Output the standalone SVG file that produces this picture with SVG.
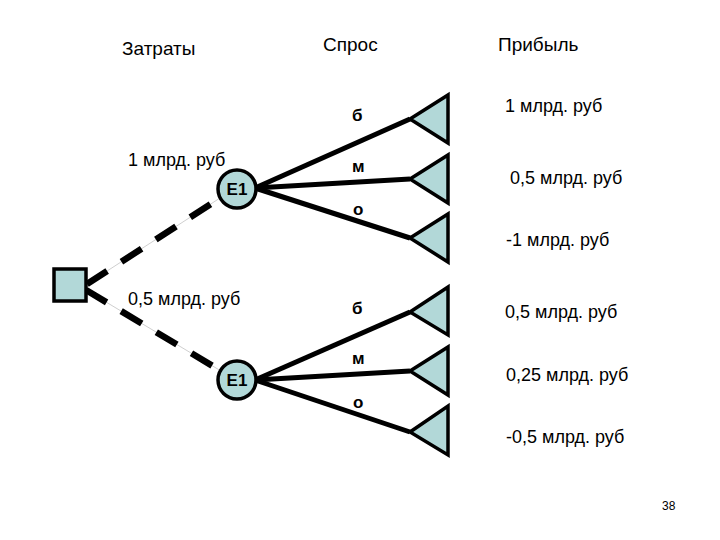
<svg xmlns="http://www.w3.org/2000/svg" width="720" height="540" viewBox="0 0 720 540">
<style>
text{font-family:"Liberation Sans",Arial,sans-serif;fill:#000}
.h{font-size:19px}
.v{font-size:18px}
.b{font-size:17px;font-weight:bold}
.e{font-size:17px;font-weight:bold;text-anchor:middle}
.node{fill:#b2d8d8;stroke:#000;stroke-width:3.5}
.br{stroke:#000;stroke-width:5;fill:none}
.dash{stroke:#000;stroke-width:6.5;stroke-dasharray:24 17;fill:none}
.thin{stroke:#cfcfcf;stroke-width:1;fill:none}
</style>
<rect width="720" height="540" fill="#fff"/>
<g id="headers">
<text class="h" x="122" y="55">Затраты</text>
<text class="h" x="323" y="51">Спрос</text>
<text class="h" x="498" y="51">Прибыль</text>
</g>
<g id="connectors">
<line class="thin" x1="87" y1="284" x2="220" y2="198"/>
<line class="thin" x1="86" y1="290" x2="221" y2="371"/>
<line class="dash" x1="87" y1="284" x2="220" y2="198"/>
<line class="dash" x1="86" y1="290" x2="221" y2="371"/>
<line class="br" x1="255" y1="188" x2="410" y2="119"/>
<line class="br" x1="255" y1="188" x2="410" y2="179"/>
<line class="br" x1="255" y1="188" x2="410" y2="238"/>
<line class="br" x1="255" y1="380" x2="410" y2="312"/>
<line class="br" x1="255" y1="380" x2="410" y2="371"/>
<line class="br" x1="255" y1="380" x2="410" y2="432"/>
</g>
<g id="decision"><rect class="node" x="54" y="269" width="32" height="32"/></g>
<g id="e1-top"><circle class="node" cx="237" cy="189" r="19"/><text class="e" x="237" y="195">E1</text></g>
<g id="e1-bottom"><circle class="node" cx="237" cy="380" r="19"/><text class="e" x="237" y="386">E1</text></g>
<g id="t1"><polygon class="node" points="410,119 448,95 448,143"/></g>
<g id="t2"><polygon class="node" points="410,179 448,155 448,203"/></g>
<g id="t3"><polygon class="node" points="410,238 448,214 448,262"/></g>
<g id="t4"><polygon class="node" points="410,312 448,287 448,335"/></g>
<g id="t5"><polygon class="node" points="410,371 448,347 448,395"/></g>
<g id="t6"><polygon class="node" points="410,432 448,406 448,455"/></g>
<g id="labels">
<text class="v" x="128" y="166">1 млрд. руб</text>
<text class="v" x="128" y="305">0,5 млрд. руб</text>
<text class="b" x="352" y="121">б</text>
<text class="b" x="352" y="172">м</text>
<text class="b" x="353" y="215">о</text>
<text class="b" x="352" y="314">б</text>
<text class="b" x="352" y="364">м</text>
<text class="b" x="353" y="408">о</text>
<text class="v" x="505" y="112">1 млрд. руб</text>
<text class="v" x="510" y="184">0,5 млрд. руб</text>
<text class="v" x="506" y="246">-1 млрд. руб</text>
<text class="v" x="505" y="318">0,5 млрд. руб</text>
<text class="v" x="506" y="381">0,25 млрд. руб</text>
<text class="v" x="506" y="443">-0,5 млрд. руб</text>
<text x="662" y="510" style="font-size:12px">38</text>
</g>
</svg>
